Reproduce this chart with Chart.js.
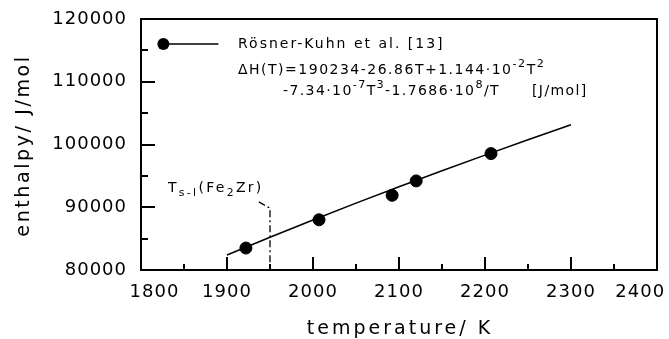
<!DOCTYPE html>
<html>
<head>
<meta charset="utf-8">
<script src="https://cdn.jsdelivr.net/npm/chart.js@4.4.1/dist/chart.umd.min.js"></script>
<style>
  html, body { margin: 0; padding: 0; background: #fff; }
  #wrap { width: 669px; height: 339px; }
</style>
</head>
<body>
<div id="wrap"><canvas id="myChart" width="669" height="339"></canvas></div>
<script>
// measured points (Rösner-Kuhn et al.)
const measT = [1922, 2007, 2092, 2120, 2207];
const measH = [83500, 88000, 91900, 94200, 98550];

// fitted curve
const fitT = [1900, 1950, 2000, 2050, 2100, 2150, 2200, 2250, 2300];
const fitH = [82380, 85220, 87970, 90650, 93260, 95810, 98310, 100750, 103150];

// T s-l marker (leader + dash-dot drop line)
const tslT = [1937, 1950, 1950];
const tslH = [90850, 89850, 80000];

// axes
const xTicks = [1800, 1900, 2000, 2100, 2200, 2300, 2400];
const yTicks = [80000, 90000, 100000, 110000, 120000];
const xTitle = "temperature/ K";
const yTitle = "enthalpy/ J/mol";

const legendLabel = "Rösner-Kuhn et al. [13]";
const formula1 = [["ΔH(T)=190234-26.86T+1.144·10", ""], ["-2", "sup"], ["T", ""], ["2", "sup"]];
const formula2 = [["-7.34·10", ""], ["-7", "sup"], ["T", ""], ["3", "sup"], ["-1.7686·10", ""], ["8", "sup"], ["/T", ""]];
const formulaUnit = "[J/mol]";
const tslLabel = [["T", ""], ["s-l", "sub"], ["(Fe", ""], ["2", "sub"], ["Zr)", ""]];

const FONT = "'DejaVu Sans', sans-serif";

function pts(xs, ys) {
    return xs.map((x, i) => ({ x: x, y: ys[i] }));
}

// draw text pieces with super/subscripts
function richText(ctx, x, y, parts, size, spacing) {
    parts.forEach(p => {
        let s = size, dy = 0;
        if (p[1] === "sup") { s = size * 0.8; dy = -size * 0.42; }
        if (p[1] === "sub") { s = size * 0.78; dy = size * 0.3; }
        ctx.font = s + "px " + FONT;
        ctx.letterSpacing = spacing + "px";
        ctx.fillText(p[0], x, y + dy);
        x += ctx.measureText(p[0]).width;
    });
    return x;
}

const deco = {
    id: "deco",
    beforeDraw(chart) {
        chart.ctx.letterSpacing = "1px";
    },
    afterDraw(chart) {
        const ctx = chart.ctx;
        const a = chart.chartArea;
        const xs = chart.scales.x, ys = chart.scales.y;
        ctx.save();
        ctx.strokeStyle = "#000";
        ctx.fillStyle = "#000";
        ctx.lineWidth = 2;

        // frame
        ctx.strokeRect(a.left, a.top, a.right - a.left, a.bottom - a.top);

        // inward ticks, major + minor
        ctx.beginPath();
        xs.ticks.forEach(t => {
            const px = Math.round(xs.getPixelForValue(t.value));
            ctx.moveTo(px, a.bottom); ctx.lineTo(px, a.bottom - 13);
            if (t.value + 50 < xs.max) {
                const pm = Math.round(xs.getPixelForValue(t.value + 50));
                ctx.moveTo(pm, a.bottom); ctx.lineTo(pm, a.bottom - 6);
            }
        });
        ys.ticks.forEach(t => {
            const py = Math.round(ys.getPixelForValue(t.value));
            ctx.moveTo(a.left, py); ctx.lineTo(a.left + 14, py);
            if (t.value + 5000 < ys.max) {
                const pm = Math.round(ys.getPixelForValue(t.value + 5000));
                ctx.moveTo(a.left, pm); ctx.lineTo(a.left + 7, pm);
            }
        });
        ctx.stroke();

        // axis titles
        ctx.textBaseline = "alphabetic";
        ctx.textAlign = "center";
        ctx.font = "19px " + FONT;
        ctx.letterSpacing = "3px";
        ctx.fillText(xTitle, (a.left + a.right) / 2 + 1, 334);
        ctx.letterSpacing = "2.6px";
        ctx.save();
        ctx.translate(29, (a.top + a.bottom) / 2 + 1);
        ctx.rotate(-Math.PI / 2);
        ctx.fillText(yTitle, 0, 0);
        ctx.restore();

        // legend symbol
        const ly = ys.getPixelForValue(116000);
        ctx.lineWidth = 1.5;
        ctx.beginPath();
        ctx.moveTo(xs.getPixelForValue(1826), ly);
        ctx.lineTo(xs.getPixelForValue(1890), ly);
        ctx.stroke();
        ctx.beginPath();
        ctx.arc(xs.getPixelForValue(1826), ly, 6, 0, Math.PI * 2);
        ctx.fill();

        // legend text and formula
        ctx.textAlign = "left";
        ctx.textBaseline = "middle";
        const tx = xs.getPixelForValue(1800) + 97;
        richText(ctx, tx, ly, [[legendLabel, ""]], 14, 2);
        richText(ctx, tx, ly + 26, formula1, 14, 1.5);
        richText(ctx, tx + 45, ly + 47, formula2, 14, 1.4);
        richText(ctx, tx + 294, ly + 47, [[formulaUnit, ""]], 14, 1.4);

        // T s-l (Fe2Zr) label
        ctx.textBaseline = "alphabetic";
        richText(ctx, xs.getPixelForValue(1800) + 27, ys.getPixelForValue(80000) - 78, tslLabel, 14, 2.3);
        ctx.restore();
    }
};

new Chart(document.querySelector("#myChart").getContext("2d"), {
    type: "scatter",
    data: {
        datasets: [{
            type: "line",
            data: pts(fitT, fitH),
            borderColor: "#000",
            borderWidth: 1.5,
            pointRadius: 0,
            fill: false,
            tension: 0
        }, {
            data: pts(measT, measH),
            backgroundColor: "#000",
            borderColor: "#000",
            pointRadius: 6,
            pointHoverRadius: 6
        }, {
            type: "line",
            data: pts(tslT, tslH),
            borderColor: "#000",
            borderWidth: 1.3,
            borderDash: [7, 3, 2, 3],
            pointRadius: 0,
            fill: false
        }]
    },
    options: {
        responsive: false,
        animation: false,
        layout: { padding: { top: 19, right: 12, left: 0, bottom: 0 } },
        plugins: { legend: { display: false }, tooltip: { enabled: false } },
        scales: {
            x: {
                type: "linear",
                min: xTicks[0],
                max: xTicks[xTicks.length - 1],
                afterBuildTicks: s => { s.ticks = xTicks.map(v => ({ value: v })); },
                afterFit: s => { s.height = 69; s.paddingLeft = 0; s.paddingRight = 0; },
                grid: { display: false, drawTicks: false },
                border: { display: false },
                ticks: {
                    color: "#000",
                    padding: 12,
                    font: { family: FONT, size: 18 },
                    // end labels sit inside the frame, as in the original
                    callback: v => v === xTicks[0] ? "    " + v :
                        v === xTicks[xTicks.length - 1] ? v + "     " : String(v)
                }
            },
            y: {
                type: "linear",
                min: yTicks[0],
                max: yTicks[yTicks.length - 1],
                afterBuildTicks: s => { s.ticks = yTicks.map(v => ({ value: v })); },
                afterFit: s => { s.width = 141; s.paddingTop = 0; s.paddingBottom = 0; },
                grid: { display: false, drawTicks: false },
                border: { display: false },
                ticks: {
                    color: "#000",
                    padding: 14,
                    font: { family: FONT, size: 18 },
                    callback: v => String(v)
                }
            }
        }
    },
    plugins: [deco]
});
</script>
</body>
</html>
